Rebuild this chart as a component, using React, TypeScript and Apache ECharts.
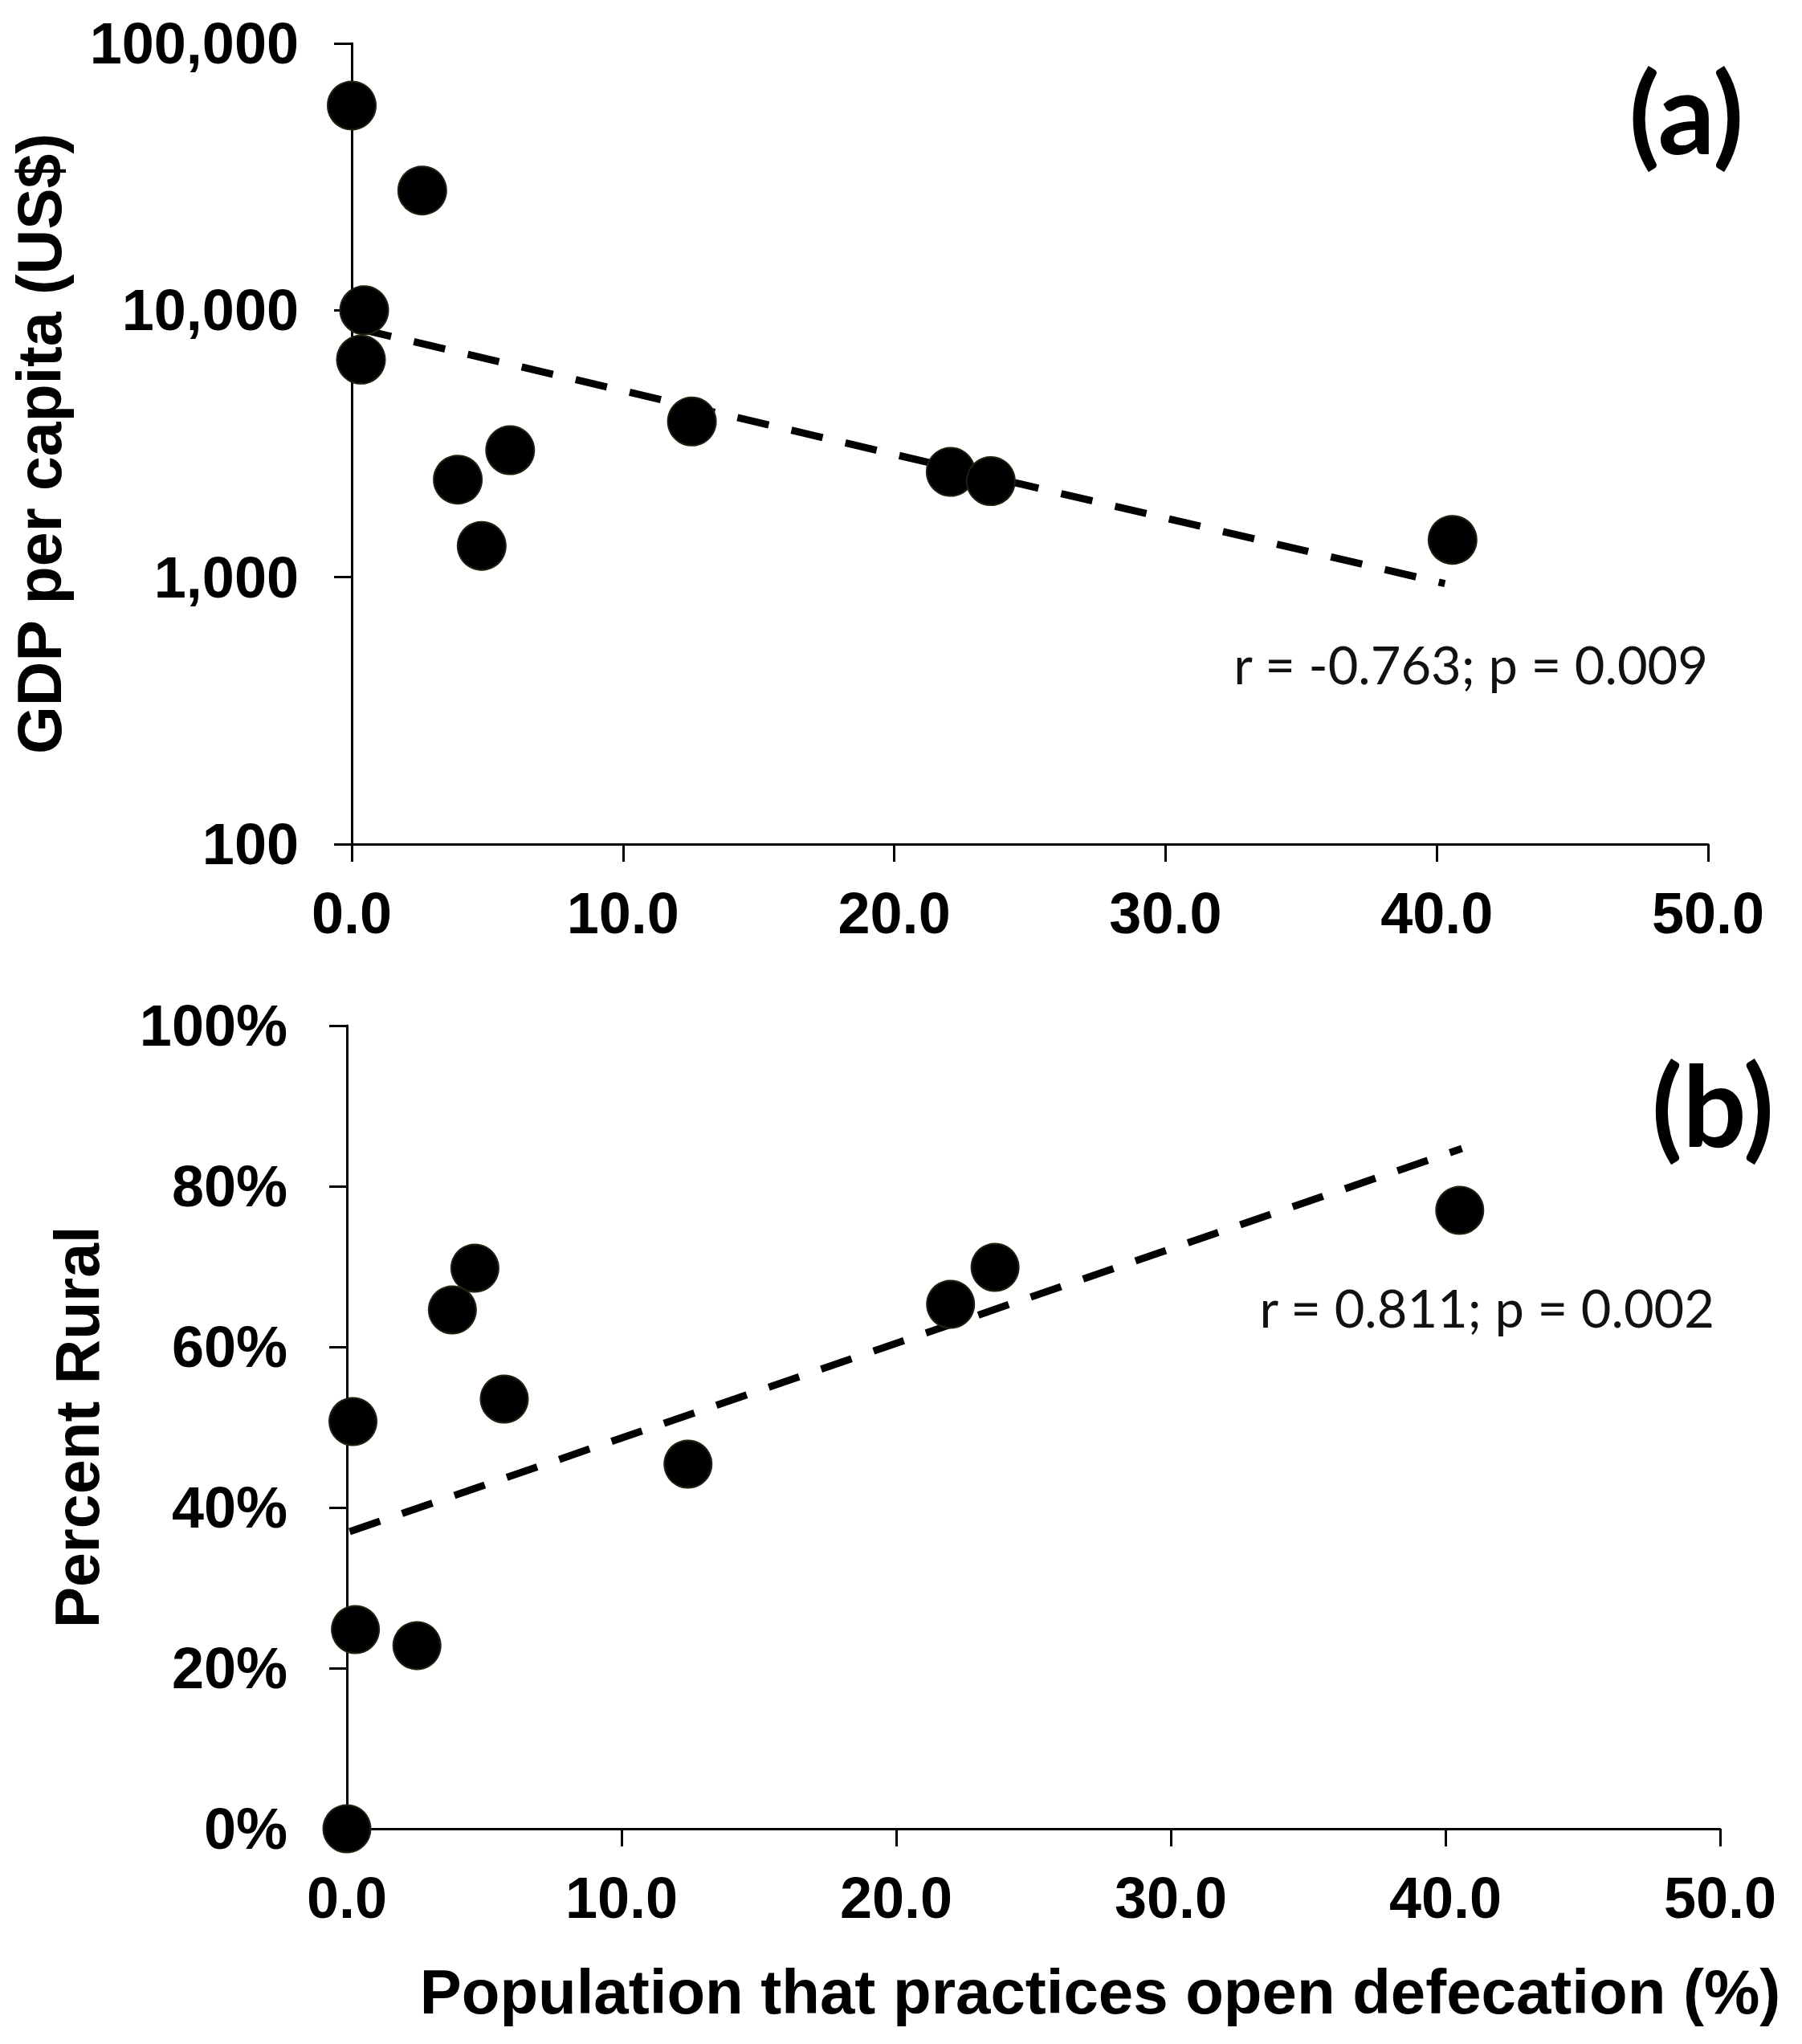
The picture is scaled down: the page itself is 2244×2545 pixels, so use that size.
import React, { useEffect, useRef } from "react";
import * as echarts from "echarts";

// Panel (a): GDP per capita vs population practising open defecation
const GDP_X = [0.0, 2.6, 0.46, 0.34, 3.91, 5.84, 4.79, 12.54, 22.08, 23.56, 40.58];
const GDP_Y = [58500, 28100, 10000, 6530, 2320, 2990, 1310, 3830, 2480, 2290, 1380];
const GDP_TREND_X = [0.3, 40.3];
const GDP_TREND_Y = [8510, 946];

// Panel (b): percent rural vs population practising open defecation
const RURAL_X = [4.66, 3.84, 5.73, 0.22, 12.42, 0.31, 2.55, 0.0, 21.98, 23.6, 40.52];
const RURAL_Y = [69.8, 64.6, 53.5, 50.7, 45.4, 24.8, 22.8, 0.0, 65.3, 69.9, 77.0];
const RURAL_TREND_X = [0.1, 40.6];
const RURAL_TREND_Y = [37.0, 84.7];

const X_MIN = 0;
const X_MAX = 50;
const X_STEP = 10;
const GDP_MIN = 100;
const GDP_MAX = 100000;
const RURAL_MIN = 0;
const RURAL_MAX = 100;
const RURAL_STEP = 20;

const TITLE_X = "Population that practices open defecation (%)";
const TITLE_GDP = "GDP per capita (US$)";
const TITLE_RURAL = "Percent Rural";
const STAT_GDP = "r = -0.763; p = 0.009";
const STAT_RURAL = "r = 0.811; p = 0.002";
const LABEL_A = "(a)";
const LABEL_B = "(b)";

const AX_FONT = "'Liberation Sans', Arial, sans-serif";
const CAL_FONT = "Lato, 'Open Sans', sans-serif";

const zip = (xs: number[], ys: number[]) => xs.map((x, i) => [x, ys[i]]);

export default function App() {
  const ref = useRef<HTMLDivElement>(null);
  useEffect(() => {
    if (!ref.current) return;
    const chart = echarts.init(ref.current, undefined, { renderer: "svg" });
    const axisLine = { show: true, onZero: false, lineStyle: { color: "#000", width: 3 } };
    const axisTick = { show: true, inside: false, length: 22, lineStyle: { color: "#000", width: 3 } };
    const labelStyle = {
      color: "#000",
      fontFamily: AX_FONT,
      fontWeight: "bold" as const,
      fontSize: 72,
    };
    const titleStyle = {
      color: "#000",
      fontFamily: AX_FONT,
      fontWeight: "bold" as const,
      fontSize: 77,
    };
    const xBase = (gridIndex: number) => ({
      gridIndex,
      type: "value" as const,
      min: X_MIN,
      max: X_MAX,
      interval: X_STEP,
      axisLine,
      axisTick,
      splitLine: { show: false },
      axisLabel: { ...labelStyle, margin: 50, formatter: (v: number) => v.toFixed(1) },
    });
    const scatterStyle = {
      color: "#000000",
      opacity: 1,
      borderColor: "#1a2410",
      borderWidth: 2,
    };
    const trendStyle = { color: "#000", width: 9, type: [40, 29] as number[] };

    chart.setOption({
      animation: false,
      backgroundColor: "#ffffff",
      grid: [
        { left: 438, top: 54, width: 1689, height: 997, outerBoundsMode: "none", containLabel: false },
        { left: 432, top: 1277, width: 1710, height: 1000, outerBoundsMode: "none", containLabel: false },
      ],
      xAxis: [
        xBase(0),
        {
          ...xBase(1),
          name: TITLE_X,
          nameLocation: "middle",
          nameGap: 164,
          nameTextStyle: { ...titleStyle, fontSize: 78, padding: [0, 0, 0, 166] },
        },
      ],
      yAxis: [
        {
          gridIndex: 0,
          type: "log",
          logBase: 10,
          min: GDP_MIN,
          max: GDP_MAX,
          axisLine,
          axisTick,
          splitLine: { show: false },
          minorTick: { show: false },
          axisLabel: {
            ...labelStyle,
            margin: 66,
            formatter: (v: number) => Math.round(v).toLocaleString("en-US"),
          },
          name: TITLE_GDP,
          nameLocation: "middle",
          nameGap: 351,
          nameTextStyle: titleStyle,
        },
        {
          gridIndex: 1,
          type: "value",
          min: RURAL_MIN,
          max: RURAL_MAX,
          interval: RURAL_STEP,
          axisLine,
          axisTick,
          splitLine: { show: false },
          axisLabel: { ...labelStyle, margin: 74, formatter: (v: number) => `${v}%` },
          name: TITLE_RURAL,
          nameLocation: "middle",
          nameGap: 298,
          nameTextStyle: titleStyle,
        },
      ],
      series: [
        {
          type: "line",
          xAxisIndex: 0,
          yAxisIndex: 0,
          data: zip(GDP_TREND_X, GDP_TREND_Y),
          symbol: "none",
          lineStyle: trendStyle,
          z: 1,
        },
        {
          type: "scatter",
          xAxisIndex: 0,
          yAxisIndex: 0,
          data: zip(GDP_X, GDP_Y),
          symbolSize: 60,
          itemStyle: scatterStyle,
          clip: false,
          z: 2,
        },
        {
          type: "line",
          xAxisIndex: 1,
          yAxisIndex: 1,
          data: zip(RURAL_TREND_X, RURAL_TREND_Y),
          symbol: "none",
          lineStyle: trendStyle,
          z: 1,
        },
        {
          type: "scatter",
          xAxisIndex: 1,
          yAxisIndex: 1,
          data: zip(RURAL_X, RURAL_Y),
          symbolSize: 59,
          itemStyle: scatterStyle,
          clip: false,
          z: 2,
        },
      ],
      graphic: [
        {
          type: "text",
          x: 2100,
          y: 138,
          style: {
            text: LABEL_A,
            fill: "#000",
            fontFamily: CAL_FONT,
            fontWeight: "bold",
            fontSize: 140,
            align: "center",
            verticalAlign: "middle",
          },
        },
        {
          type: "text",
          x: 2133,
          y: 1374,
          style: {
            text: LABEL_B,
            fill: "#000",
            fontFamily: CAL_FONT,
            fontWeight: "bold",
            fontSize: 140,
            align: "center",
            verticalAlign: "middle",
          },
        },
        {
          type: "text",
          x: 2127,
          y: 827,
          style: {
            text: STAT_GDP,
            fill: "#111",
            fontFamily: CAL_FONT,
            fontSize: 65,
            align: "right",
            verticalAlign: "middle",
          },
        },
        {
          type: "text",
          x: 2135,
          y: 1628,
          style: {
            text: STAT_RURAL,
            fill: "#111",
            fontFamily: CAL_FONT,
            fontSize: 65,
            align: "right",
            verticalAlign: "middle",
          },
        },
      ],
    });
    return () => chart.dispose();
  }, []);
  return (
    <div
      ref={ref}
      style={{ position: "absolute", left: 0, top: 0, width: 2244, height: 2545 }}
    />
  );
}
